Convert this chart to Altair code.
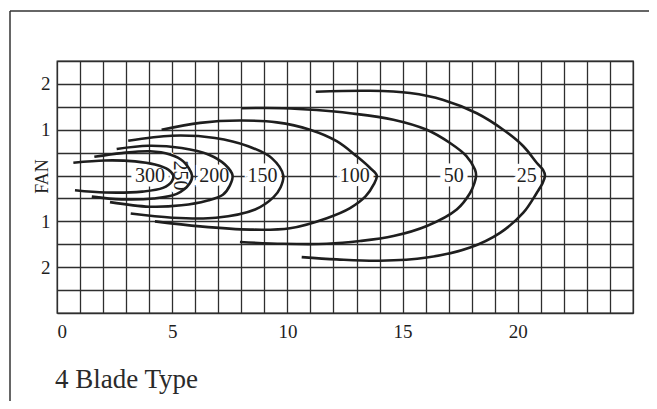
import altair as alt
import pandas as pd

# ---- contour traces (x = distance, y = lateral offset) ----
C300_X = [0.71, 2.08, 3.39, 4.25, 4.83, 5.05, 4.98, 4.60, 3.70, 2.10, 0.78]
C300_Y = [0.28, 0.33, 0.31, 0.24, 0.13, 0.00, -0.13, -0.27, -0.35, -0.37, -0.32]

C250_X = [1.62, 2.81, 4.04, 4.90, 5.48, 5.86, 5.75, 5.20, 4.20, 2.80, 1.51]
C250_Y = [0.41, 0.49, 0.53, 0.46, 0.31, 0.00, -0.18, -0.40, -0.50, -0.52, -0.46]

C200_X = [2.59, 3.96, 5.41, 6.57, 7.29, 7.62, 7.50, 7.20, 6.50, 5.40, 4.00, 2.30]
C200_Y = [0.58, 0.65, 0.60, 0.46, 0.24, 0.00, -0.22, -0.42, -0.55, -0.65, -0.68, -0.58]

C150_X = [3.09, 4.98, 6.86, 8.30, 9.32, 9.82, 9.70, 9.40, 8.60, 6.90, 5.00, 3.20]
C150_Y = [0.76, 0.87, 0.82, 0.64, 0.38, 0.00, -0.26, -0.47, -0.74, -0.92, -0.92, -0.83]

C100_X = [4.54, 6.21, 7.94, 9.54, 10.98, 12.14, 13.01, 13.58, 13.88, 13.74, 13.40, 12.72, 11.71, 10.11, 8.38, 6.21, 4.25]
C100_Y = [1.00, 1.15, 1.20, 1.16, 1.00, 0.75, 0.42, 0.17, 0.00, -0.20, -0.45, -0.71, -0.93, -1.15, -1.18, -1.11, -1.00]

C50_X = [8.02, 9.82, 11.27, 12.72, 14.60, 16.05, 17.06, 17.78, 18.14, 18.19, 18.12, 17.93, 17.35, 16.05, 14.60, 13.15, 11.71, 9.82, 7.94]
C50_Y = [1.47, 1.47, 1.43, 1.36, 1.22, 1.00, 0.71, 0.42, 0.13, 0.00, -0.16, -0.38, -0.74, -1.10, -1.32, -1.43, -1.49, -1.49, -1.45]

C25_X = [11.23, 13.59, 15.32, 16.77, 18.22, 19.37, 20.24, 20.82, 21.10, 21.18, 21.08, 20.82, 20.24, 19.23, 17.93, 16.05, 14.02, 12.14, 10.62]
C25_Y = [1.83, 1.85, 1.80, 1.65, 1.36, 1.00, 0.64, 0.28, 0.12, 0.00, -0.16, -0.38, -0.81, -1.25, -1.57, -1.79, -1.86, -1.83, -1.78]

# ---- contour labels ----
LABEL_TEXT = ["300", "250", "200", "150", "100", "50", "25"]
LABEL_X = [4.04, 5.34, 6.82, 8.92, 12.92, 17.22, 20.39]
LABEL_Y = [0, 0, 0, 0, 0, 0, 0]
LABEL_ANGLE = [0, 90, 0, 0, 0, 0, 0]

X_TICKS = list(range(0, 26))
Y_TICKS = [-3, -2.5, -2, -1.5, -1, -0.5, 0, 0.5, 1, 1.5, 2, 2.5]
CAPTION = ["4 Blade Type"]

curves = {"300": (C300_X, C300_Y), "250": (C250_X, C250_Y), "200": (C200_X, C200_Y),
          "150": (C150_X, C150_Y), "100": (C100_X, C100_Y), "50": (C50_X, C50_Y),
          "25": (C25_X, C25_Y)}
rows = []
for lvl, (xs, ys) in curves.items():
    for i, (xv, yv) in enumerate(zip(xs, ys)):
        rows.append({"level": lvl, "x": xv, "y": yv, "order": i})
df_lines = pd.DataFrame(rows)
df_labels = pd.DataFrame({"text": LABEL_TEXT, "x": LABEL_X, "y": LABEL_Y, "angle": LABEL_ANGLE})
df_one = pd.DataFrame({"caption": CAPTION})

FONT = "Liberation Serif"
INK = "#1e1e1e"
GRID = "#2e2e2e"

xscale = alt.Scale(domain=[0, 25], nice=False, zero=False)
yscale = alt.Scale(domain=[-3, 2.5], nice=False, zero=False)

xaxis = alt.Axis(values=X_TICKS, labelExpr="(datum.value % 5 === 0 && datum.value < 25) ? datum.label : ''",
                 title=None, grid=True, gridColor=GRID, gridWidth=1.3, gridOpacity=1,
                 domain=False, ticks=False, labelAngle=0, labelOverlap=False,
                 labelPadding=9, labelFontSize=19, labelFont=FONT, labelColor=INK)
yaxis = alt.Axis(values=Y_TICKS,
                 labelExpr="(abs(datum.value) == 1 || abs(datum.value) == 2) ? format(abs(datum.value), 'd') : ''",
                 title="FAN", titleX=-15, titleY=115, titleAngle=-90, titleAlign="center",
                 titleBaseline="middle", titleFontSize=18, titleFont=FONT, titleFontWeight="normal",
                 titleColor=INK, grid=True, gridColor=GRID, gridWidth=1.3, gridOpacity=1,
                 domain=False, ticks=False, labelOverlap=False,
                 labelPadding=7, labelFontSize=19, labelFont=FONT, labelColor=INK)

X_ENC = alt.X("x:Q", scale=xscale, axis=xaxis)
Y_ENC = alt.Y("y:Q", scale=yscale, axis=yaxis)

halo = alt.Chart(df_labels).mark_text(font=FONT, fontSize=20, color="white", stroke="white",
                                      strokeWidth=9, baseline="middle", align="center").encode(
    x=X_ENC, y=Y_ENC, text="text:N", angle=alt.Angle("angle:Q", scale=None))

lines = alt.Chart(df_lines).mark_line(color=INK, strokeWidth=2.6, interpolate="catmull-rom").encode(
    x=X_ENC, y=Y_ENC, detail="level:N", order="order:Q")

labels = alt.Chart(df_labels).mark_text(font=FONT, fontSize=20, color=INK,
                                        baseline="middle", align="center").encode(
    x=X_ENC, y=Y_ENC, text="text:N", angle=alt.Angle("angle:Q", scale=None))

frame_left = alt.Chart(df_one).mark_rule(color="#333", strokeWidth=1.5, clip=False).encode(
    x=alt.value(-47), y=alt.value(-50), y2=alt.value(345))
frame_top = alt.Chart(df_one).mark_rule(color="#333", strokeWidth=1.5, clip=False).encode(
    x=alt.value(-47), x2=alt.value(600), y=alt.value(-50))

caption = alt.Chart(df_one).mark_text(font=FONT, fontSize=27, color="#2a2a2a", align="left",
                                      baseline="alphabetic").encode(
    text="caption:N", x=alt.value(-2), y=alt.value(327))

chart = alt.layer(halo, lines, labels, frame_left, frame_top, caption).properties(
    width=576, height=252,
    autosize=alt.AutoSizeParams(type="none"),
    padding={"left": 49, "top": 53, "right": 16, "bottom": 88},
    background="white",
).configure_view(stroke=GRID, strokeWidth=1.3)

chart.save("out.html", embed_options={"renderer": "svg", "actions": False})
